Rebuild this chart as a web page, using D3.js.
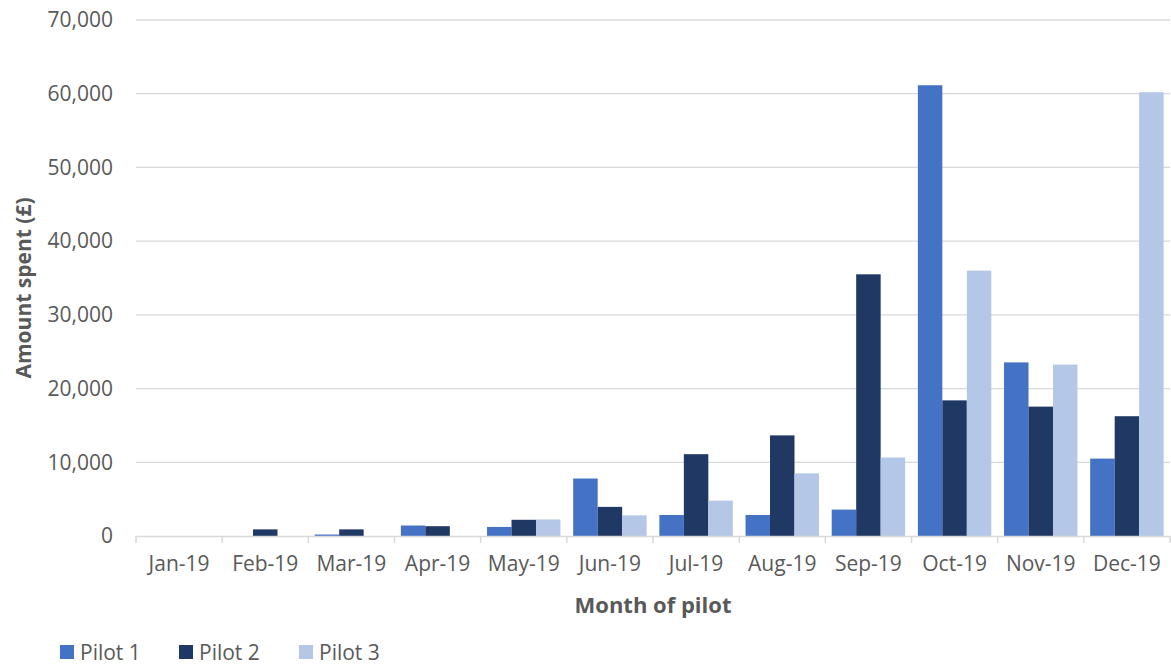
<!DOCTYPE html>
<html>
<head>
<meta charset="utf-8">
<script src="https://cdn.jsdelivr.net/npm/d3@7"></script>
<style>
  html, body { margin: 0; padding: 0; background: #fff; }
  svg { display: block; }
  text { font-family: "Open Sans", "Noto Sans", sans-serif; }
</style>
</head>
<body>
<svg id="chart" width="1171" height="667"></svg>
<script>
// Monthly spend per pilot (£)
const months = ["Jan-19", "Feb-19", "Mar-19", "Apr-19", "May-19", "Jun-19",
                "Jul-19", "Aug-19", "Sep-19", "Oct-19", "Nov-19", "Dec-19"];
const pilot1 = [0, 0, 200, 1420, 1230, 7800, 2850, 2850, 3580, 61150, 23550, 10500];
const pilot2 = [0, 900, 900, 1330, 2200, 3950, 11100, 13650, 35500, 18400, 17550, 16250];
const pilot3 = [0, 0, 0, 0, 2240, 2800, 4800, 8500, 10650, 36000, 23250, 60200];
const seriesNames = ["Pilot 1", "Pilot 2", "Pilot 3"];
const seriesColors = ["#4472C4", "#203864", "#B4C7E7"];
const yTicks = [0, 10000, 20000, 30000, 40000, 50000, 60000, 70000];

const series = [pilot1, pilot2, pilot3];

const svg = d3.select("#chart");
const margin = { left: 136, right: 1, top: 20, bottom: 131 };
const W = 1171, H = 667;
const plotW = W - margin.left - margin.right;
const plotH = H - margin.top - margin.bottom;

const g = svg.append("g").attr("transform", `translate(${margin.left},${margin.top})`);

const x0 = d3.scaleBand().domain(months).range([0, plotW]).padding(0);
const x1 = d3.scaleBand().domain(d3.range(series.length))
  .range([0, x0.bandwidth()]).paddingInner(0).paddingOuter(0.26);
const y = d3.scaleLinear().domain([0, 70000]).range([plotH, 0]);

// Horizontal gridlines
g.append("g").selectAll("line")
  .data(yTicks.filter(d => d > 0))
  .join("line")
  .attr("x1", 0).attr("x2", plotW)
  .attr("y1", d => y(d)).attr("y2", d => y(d))
  .attr("stroke", "#d9d9d9").attr("stroke-width", 1.3);

// Y axis labels
const yAxis = g.append("g")
  .call(d3.axisLeft(y).tickValues(yTicks).tickFormat(d3.format(",")).tickSize(0).tickPadding(23));
yAxis.select(".domain").remove();
yAxis.selectAll("text")
  .attr("fill", "#595959").style("font-size", "21px");

// Bars
const groups = g.append("g").selectAll("g")
  .data(months)
  .join("g")
  .attr("transform", d => `translate(${x0(d)},0)`);

groups.selectAll("rect")
  .data((m, i) => series.map((s, k) => ({ k, v: s[i] })))
  .join("rect")
  .attr("x", d => x1(d.k))
  .attr("width", x1.bandwidth())
  .attr("y", d => y(d.v))
  .attr("height", d => plotH - y(d.v))
  .attr("fill", d => seriesColors[d.k]);

// X axis
const xAxis = g.append("g")
  .attr("transform", `translate(0,${plotH})`)
  .call(d3.axisBottom(x0).tickSize(0).tickPadding(20));
xAxis.select(".domain").attr("stroke", "#d9d9d9").attr("stroke-width", 1.5);
xAxis.selectAll("text").attr("fill", "#595959").style("font-size", "21px");

// Category boundary ticks
g.append("g").selectAll("line")
  .data(d3.range(months.length + 1))
  .join("line")
  .attr("x1", i => i * x0.step()).attr("x2", i => i * x0.step())
  .attr("y1", plotH).attr("y2", plotH + 7)
  .attr("stroke", "#d9d9d9").attr("stroke-width", 1.5);

// Axis titles
svg.append("text")
  .attr("transform", `translate(31,${margin.top + plotH / 2 + 10}) rotate(-90)`)
  .attr("text-anchor", "middle")
  .attr("fill", "#595959")
  .style("font-size", "21px").style("font-weight", "bold")
  .text("Amount spent (£)");

svg.append("text")
  .attr("x", 653).attr("y", 613)
  .attr("text-anchor", "middle")
  .attr("fill", "#595959")
  .style("font-size", "22px").style("font-weight", "bold")
  .text("Month of pilot");

// Legend
const legendX = [60, 179, 299];
const legend = svg.append("g").selectAll("g")
  .data(seriesNames)
  .join("g")
  .attr("transform", (d, i) => `translate(${legendX[i]},645)`);
legend.append("rect")
  .attr("width", 14).attr("height", 14)
  .attr("fill", (d, i) => seriesColors[i]);
legend.append("text")
  .attr("x", 20).attr("y", 14.5)
  .attr("fill", "#595959")
  .style("font-size", "21px")
  .text(d => d);
</script>
</body>
</html>
